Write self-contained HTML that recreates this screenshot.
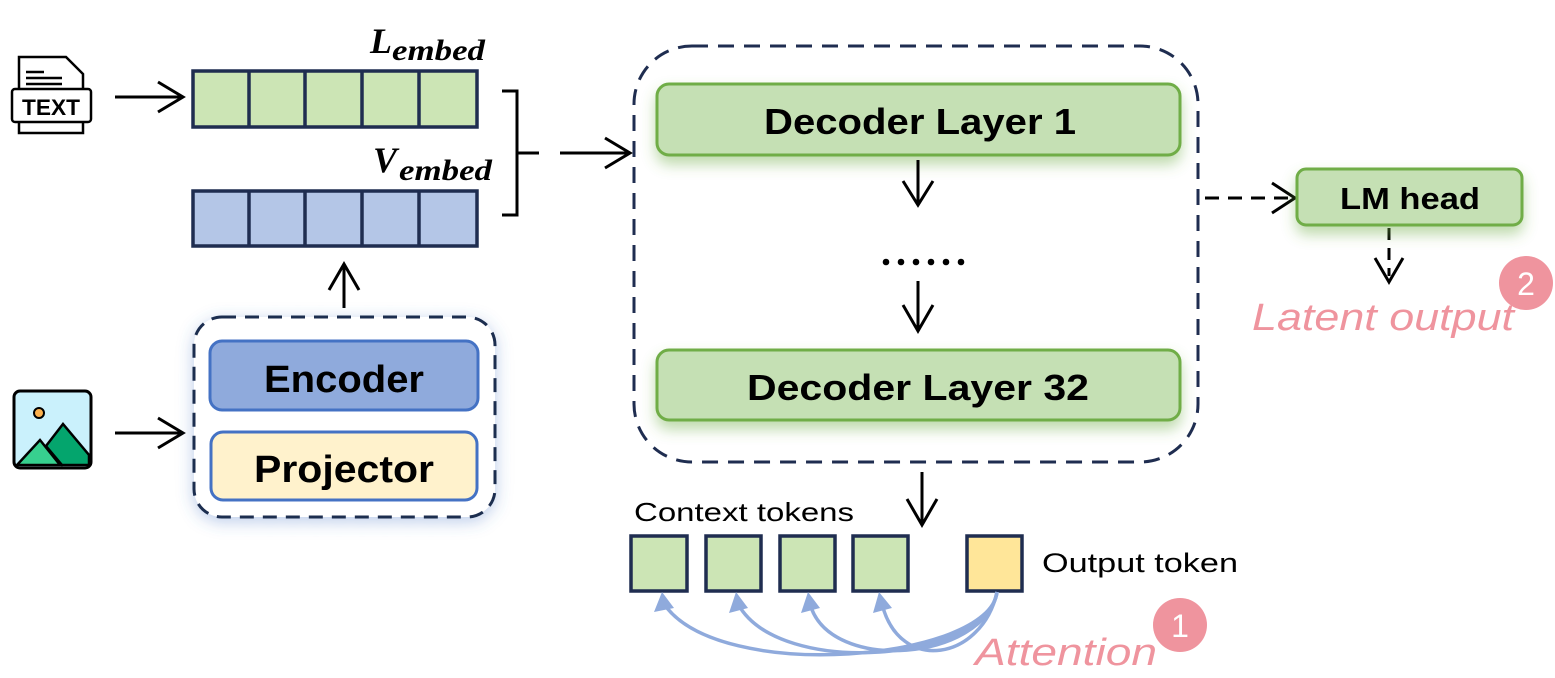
<!DOCTYPE html>
<html><head><meta charset="utf-8"><style>
html,body{margin:0;padding:0;background:#fff;}
svg{display:block;font-family:"Liberation Sans",sans-serif;}
</style></head><body>
<svg width="1555" height="678" viewBox="0 0 1555 678" xmlns="http://www.w3.org/2000/svg">
<defs>
<filter id="gg" x="-20%" y="-40%" width="140%" height="200%"><feDropShadow dx="0" dy="8" stdDeviation="7" flood-color="#70ad47" flood-opacity="0.45"/></filter>
<filter id="bg" x="-20%" y="-20%" width="140%" height="140%"><feDropShadow dx="0" dy="4" stdDeviation="8" flood-color="#4472c4" flood-opacity="0.35"/></filter>
</defs>
<g stroke="#000" stroke-width="3" fill="none">
<path d="M19,57 h47 l17,17 v59 h-64 z" stroke-width="2.5"/>
<rect x="12" y="89" width="79" height="33" rx="3" fill="#fff" stroke-width="2.5"/>
<line x1="26" y1="72" x2="44" y2="72" stroke-width="2.5"/><line x1="26" y1="78" x2="62" y2="78" stroke-width="2.5"/><line x1="26" y1="84" x2="62" y2="84" stroke-width="2.5"/>
</g>
<text x="51" y="115" font-size="22" font-weight="bold" text-anchor="middle" textLength="58" lengthAdjust="spacingAndGlyphs">TEXT</text>
<rect x="14" y="391" width="77" height="77" rx="6" fill="#caf1fc" stroke="#000" stroke-width="3"/>
<path d="M17,465 L40,440 L60,465 Z" fill="#37d08f" stroke="#000" stroke-width="2.5"/>
<path d="M46,446 L63,424 L89,455 V465 H62 Z" fill="#04a56d" stroke="#000" stroke-width="2.5"/>
<circle cx="39" cy="413" r="5" fill="#fdb14d" stroke="#000" stroke-width="2"/>
<g stroke="#000" stroke-width="3" fill="none">
<path d="M115,97 H182 M158,82 L183,97 L158,112"/>
<path d="M115,433 H182 M158,418 L183,433 L158,448"/>
<path d="M344,308 V264 M329,290 L344,264 L359,290"/>
<path d="M502,91 h15 v124 h-15 M517,153 h22"/>
<path d="M560,153 H629 M605,138 L630,153 L605,168"/>
</g>
<g stroke="#1f2d50" stroke-width="3.5">
<rect x="193" y="71" width="284" height="56" fill="#cce5b5"/>
<line x1="249" y1="71" x2="249" y2="127"/><line x1="305" y1="71" x2="305" y2="127"/><line x1="362" y1="71" x2="362" y2="127"/><line x1="419" y1="71" x2="419" y2="127"/>
<rect x="193" y="191" width="284" height="55" fill="#b4c6e7"/>
<line x1="249" y1="191" x2="249" y2="246"/><line x1="305" y1="191" x2="305" y2="246"/><line x1="362" y1="191" x2="362" y2="246"/><line x1="419" y1="191" x2="419" y2="246"/>
</g>
<text x="370" y="53" font-family="Liberation Serif,serif" font-style="italic" font-weight="bold" font-size="36">L</text>
<text x="392" y="60" font-family="Liberation Serif,serif" font-style="italic" font-weight="bold" font-size="30" textLength="93" lengthAdjust="spacingAndGlyphs">embed</text>
<text x="373" y="172" font-family="Liberation Serif,serif" font-style="italic" font-weight="bold" font-size="36">V</text>
<text x="399" y="180" font-family="Liberation Serif,serif" font-style="italic" font-weight="bold" font-size="30" textLength="93" lengthAdjust="spacingAndGlyphs">embed</text>
<rect x="194" y="317" width="301" height="200" rx="28" fill="#fff" stroke="#1f2d50" stroke-width="3" stroke-dasharray="14,9" filter="url(#bg)"/>
<rect x="210" y="341" width="268" height="69" rx="12" fill="#8faadc" stroke="#4472c4" stroke-width="3"/>
<rect x="211" y="432" width="266" height="68" rx="12" fill="#fff2cc" stroke="#4472c4" stroke-width="3"/>
<text x="344" y="392" font-size="38" font-weight="bold" text-anchor="middle" textLength="160" lengthAdjust="spacingAndGlyphs">Encoder</text>
<text x="344" y="482" font-size="38" font-weight="bold" text-anchor="middle" textLength="180" lengthAdjust="spacingAndGlyphs">Projector</text>
<rect x="634" y="46" width="564" height="416" rx="58" fill="none" stroke="#1f2d50" stroke-width="3" stroke-dasharray="16,10"/>
<rect x="657" y="84" width="523" height="71" rx="12" fill="#c5e0b4" stroke="#70ad47" stroke-width="3" filter="url(#gg)"/>
<rect x="657" y="350" width="523" height="70" rx="12" fill="#c5e0b4" stroke="#70ad47" stroke-width="3" filter="url(#gg)"/>
<text x="920" y="134" font-size="36" font-weight="bold" text-anchor="middle" textLength="312" lengthAdjust="spacingAndGlyphs">Decoder Layer 1</text>
<text x="918" y="400" font-size="36" font-weight="bold" text-anchor="middle" textLength="342" lengthAdjust="spacingAndGlyphs">Decoder Layer 32</text>
<g stroke="#000" stroke-width="3" fill="none">
<path d="M918,160 V204 M903,181 L918,205 L933,181"/>
<path d="M918,281 V330 M903,305 L918,331 L933,305"/>
<path d="M922,472 V524 M907,499 L922,525 L937,499"/>
<path d="M1205,198 H1290" stroke-dasharray="14,9"/>
<path d="M1272,183 L1295,198 L1272,213"/>
<path d="M1389,228 V276" stroke-dasharray="12,8"/>
<path d="M1375,258 L1389,282 L1403,258"/>
</g>
<g fill="#000"><circle cx="886" cy="262" r="3.3"/><circle cx="901" cy="262" r="3.3"/><circle cx="916" cy="262" r="3.3"/><circle cx="931" cy="262" r="3.3"/><circle cx="946" cy="262" r="3.3"/><circle cx="961" cy="262" r="3.3"/></g>
<rect x="1297" y="169" width="225" height="56" rx="9" fill="#c5e0b4" stroke="#70ad47" stroke-width="3" filter="url(#gg)"/>
<text x="1410" y="209" font-size="31" font-weight="bold" text-anchor="middle" textLength="140" lengthAdjust="spacingAndGlyphs">LM head</text>
<circle cx="1526" cy="283" r="27" fill="#ef949e"/>
<text x="1526" y="295" font-size="32" fill="#fff" text-anchor="middle">2</text>
<text x="1252" y="330" font-size="38" font-style="italic" fill="#ef949e" textLength="262" lengthAdjust="spacingAndGlyphs">Latent output</text>
<text x="634" y="521" font-size="26" textLength="220" lengthAdjust="spacingAndGlyphs">Context tokens</text>
<g stroke="#1f2d50" stroke-width="3.5" fill="#cce5b5">
<rect x="631" y="536" width="56" height="55"/><rect x="706" y="536" width="55" height="55"/><rect x="780" y="536" width="55" height="55"/><rect x="853" y="536" width="55" height="55"/>
<rect x="967" y="536" width="55" height="55" fill="#ffe699"/>
</g>
<text x="1042" y="572" font-size="27" textLength="196" lengthAdjust="spacingAndGlyphs">Output token</text>
<g stroke="#8faadc" stroke-width="3.5" fill="none">
<path d="M997,592 C990,660 720,685 664,604"/>
<path d="M997,592 C988,660 780,680 738,604"/>
<path d="M997,592 C985,660 830,675 810,604"/>
<path d="M997,592 C982,660 900,675 882,604"/>
</g>
<g fill="#8faadc">
<path d="M662,592 L654,612 L674,608 Z"/>
<path d="M736,592 L729,613 L748,608 Z"/>
<path d="M808,592 L801,613 L820,608 Z"/>
<path d="M879,592 L873,613 L892,608 Z"/>
</g>
<circle cx="1180" cy="625" r="27" fill="#ef949e"/>
<text x="1180" y="637" font-size="32" fill="#fff" text-anchor="middle">1</text>
<text x="975" y="665" font-size="38" font-style="italic" fill="#ef949e" textLength="182" lengthAdjust="spacingAndGlyphs">Attention</text>
</svg>
</body></html>
